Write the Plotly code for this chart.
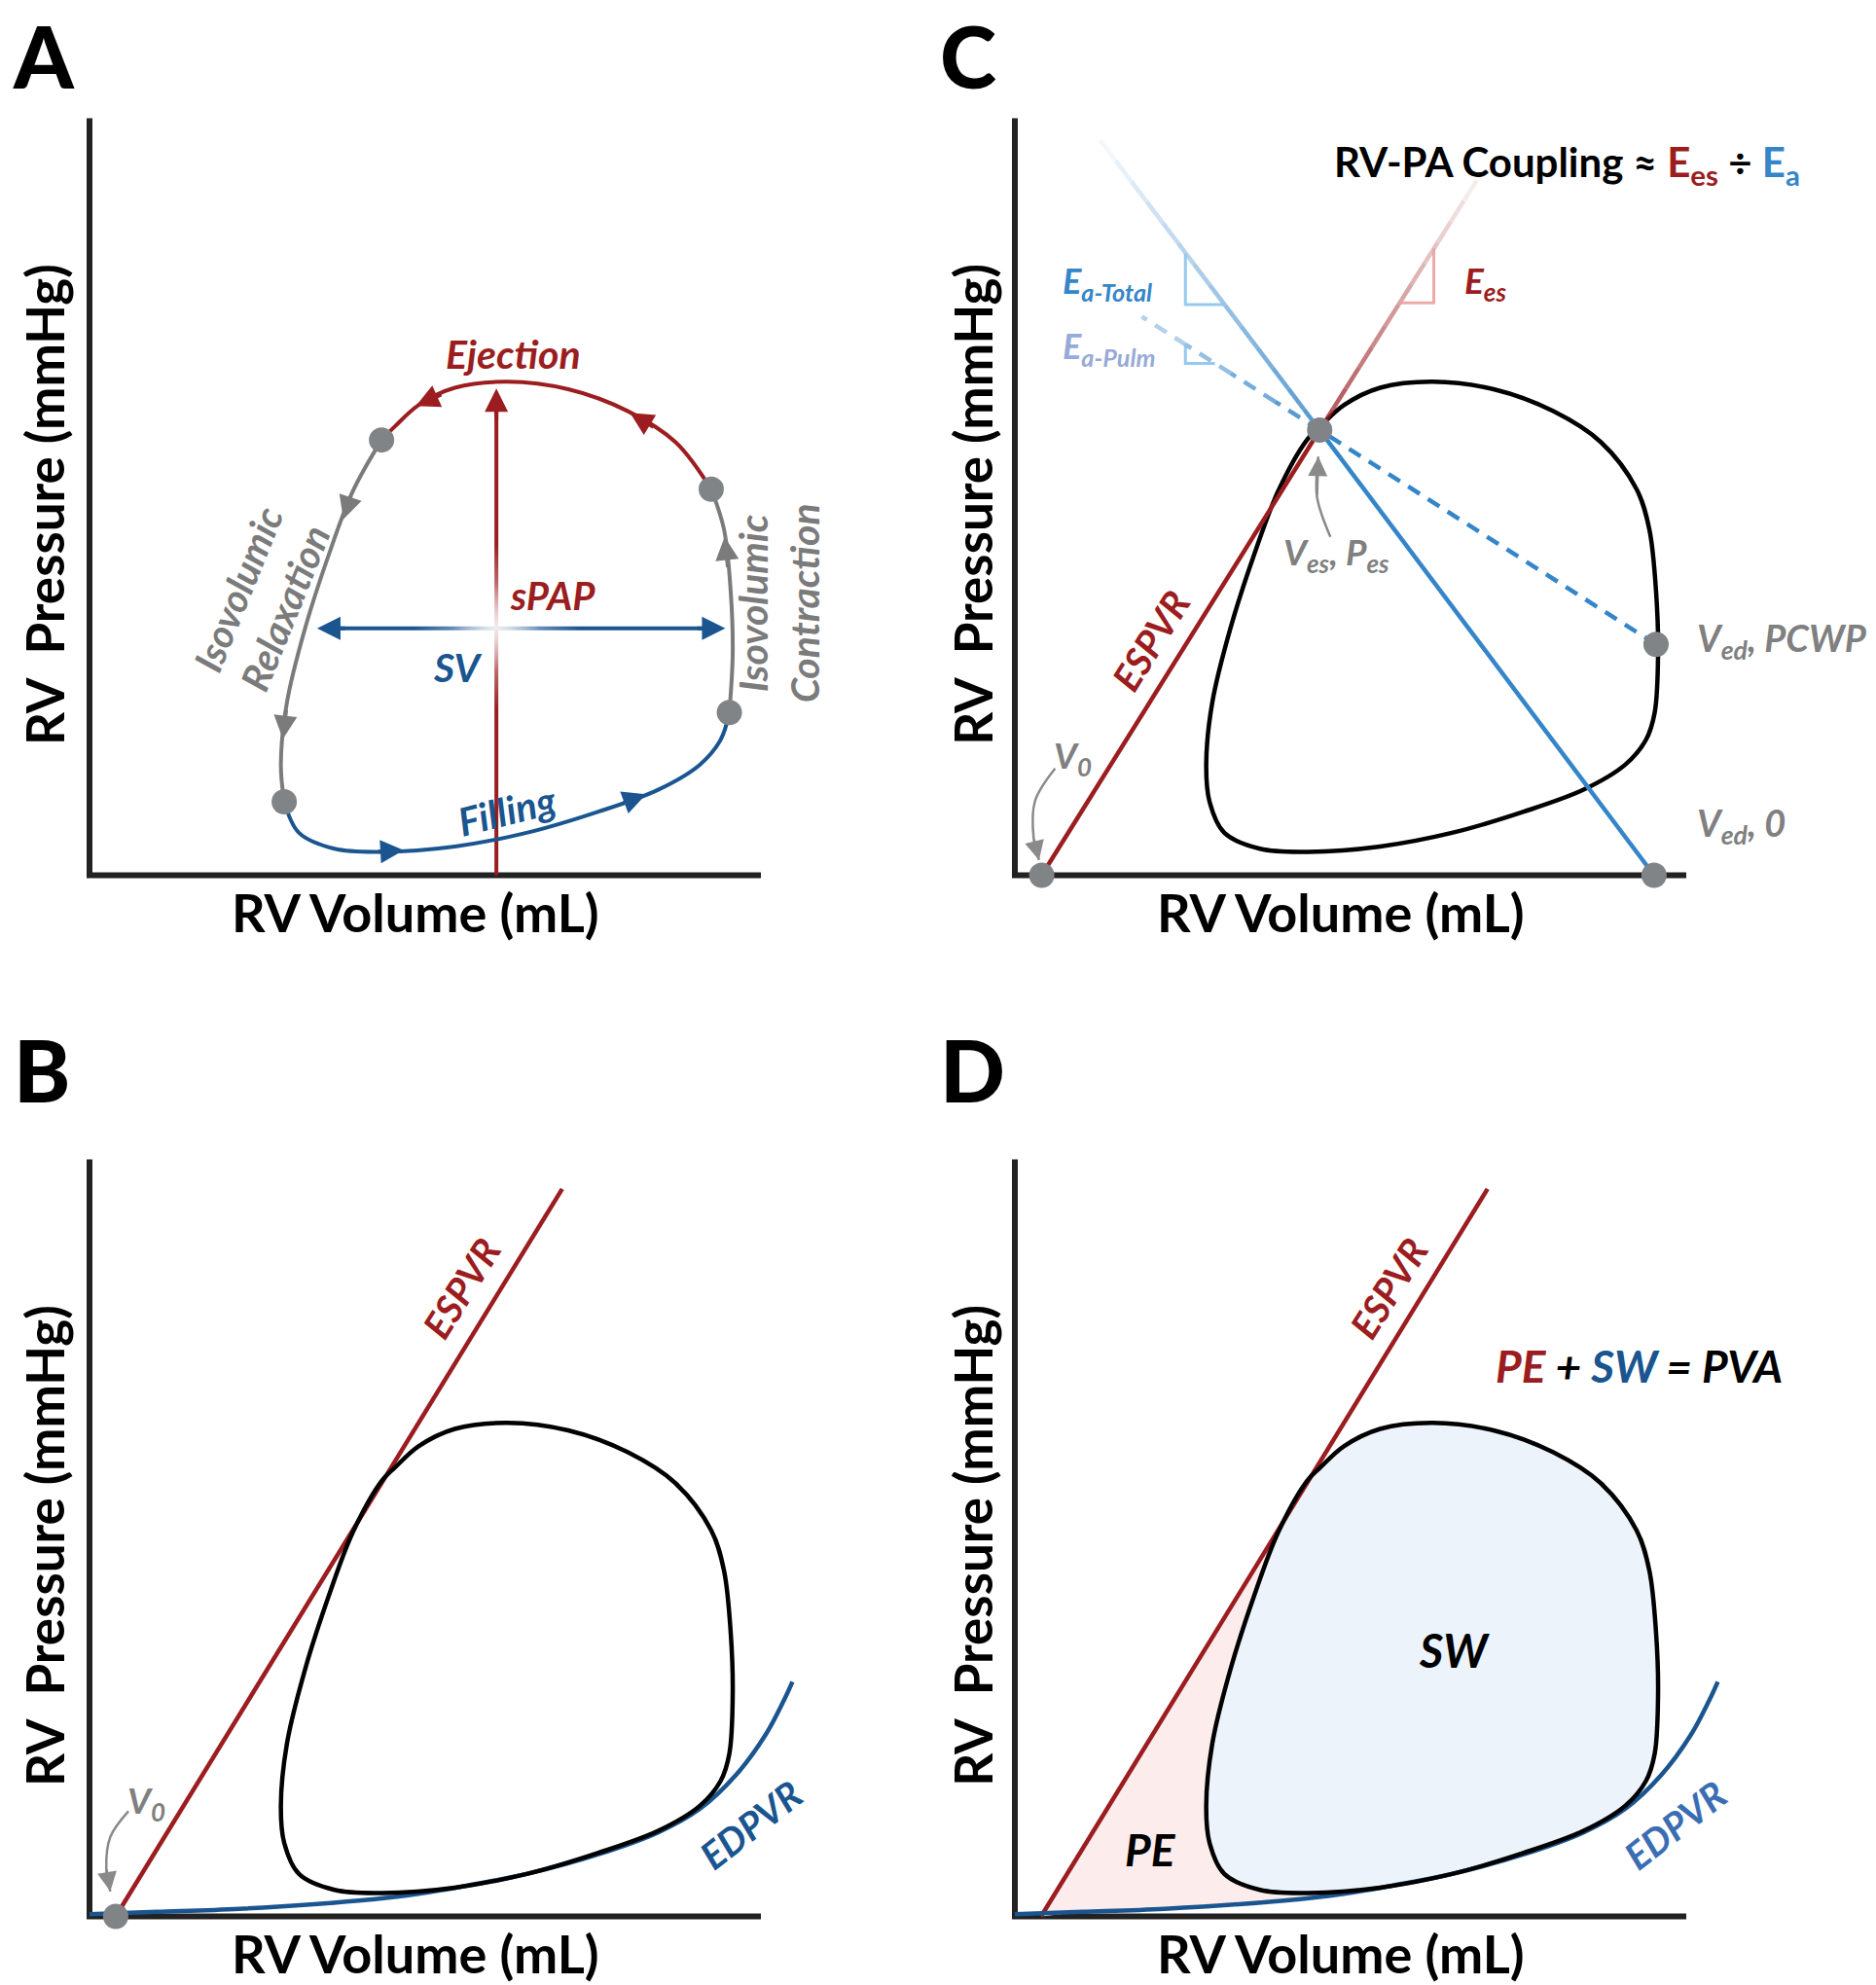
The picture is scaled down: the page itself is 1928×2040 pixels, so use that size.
import plotly.graph_objects as go

W, H = 1928, 2040
SX, SY = 6.9, 7.78          # pixels per axis unit (axes run 0..100)
FONT = "Lato"

RED = "#9b1d20"
BLUE = "#1a5590"
LBLUE = "#3585c9"
GRAY = "#7b7b7b"
DOTC = "#808487"
AXC = "#222222"

# ---------------- data (volume, pressure as % of axis length) ----------------
# PV loop, ordered from end-systole (counter-clockwise)
LOOP_V = [43.5, 39.2, 35.7, 32.1, 29.4, 28.5, 29.0, 31.2, 36.5, 43.7, 54.4, 65.1, 75.8, 84.7,
          90.9, 94.0, 95.3, 95.8, 95.5, 94.5, 92.6, 87.3, 80.2, 71.3, 62.2, 54.4, 49.0, 45.5, 43.5]
LOOP_P = [57.5, 50.7, 42.5, 32.6, 22.8, 14.6, 9.7, 5.6, 3.5, 3.1, 3.8, 5.6, 8.4, 11.3,
          14.6, 17.9, 21.5, 29.3, 37.5, 45.7, 51.0, 57.2, 61.3, 64.2, 65.2, 64.4, 62.1, 59.3, 57.5]
I_ES, I_FILL, I_ED, I_EJ, I_END = 0, 6, 16, 20, 28

EDPVR_V = [0.0, 10.0, 22.3, 40.1, 49.0, 57.0, 65.1, 75.8, 84.7, 90.9, 96.3, 100.7, 103.4, 104.7]
EDPVR_P = [0.3, 0.6, 1.0, 2.1, 3.0, 4.2, 5.6, 8.2, 11.1, 14.2, 18.7, 24.0, 28.5, 31.0]

ESPVR_V = [3.9, 70.4]
ESPVR_P = [0.0, 96.1]

# Panel A markers
SPAP_V = [60.6, 60.6]
SPAP_P = [0.0, 62.0]
SV_V = [35.0, 93.5]
SV_P = [32.6, 32.6]
GLOW = (60.6, 32.8)
A_HEADS = [((48.6, 62.0), (52.6, 63.6), RED), ((80.5, 61.1), (84.2, 59.1), RED),
           ((37.8, 47.0), (39.0, 50.3), GRAY), ((28.8, 18.0), (29.3, 22.0), GRAY),
           ((46.8, 3.3), (42.8, 3.1), BLUE), ((82.9, 10.7), (79.3, 9.5), BLUE),
           ((94.6, 44.7), (95.1, 40.5), GRAY),
           ((60.6, 64.3), (60.6, 60.0), RED),
           ((33.9, 32.6), (38.3, 32.6), BLUE), ((94.7, 32.6), (90.3, 32.6), BLUE)]

# Panel C points
C_V0 = (4.0, 0.0)
C_VES = (45.4, 58.8)
C_ESPVR_END = (68.8, 91.8)
C_VED0 = (95.2, 0.0)
C_VEDP = (95.5, 30.5)
C_EAT_END = (12.7, 97.1)
C_EAP_END = (18.9, 73.8)
TRI_EES_V, TRI_EES_P = [57.4, 62.4, 62.4], [75.6, 75.6, 82.8]
TRI_EAT_V, TRI_EAT_P = [25.4, 25.4, 31.1], [82.1, 75.4, 75.4]
TRI_EAP_V, TRI_EAP_P = [25.4, 25.4, 29.8], [70.2, 67.6, 67.6]
C_VES_ARROW_V, C_VES_ARROW_P = [47.0, 45.0, 45.2], [44.7, 50.0, 55.3]
C_V0_ARROW_V, C_V0_ARROW_P = [6.0, 3.0, 2.8, 3.6], [14.1, 9.8, 4.9, 2.0]
B_V0_ARROW_V, B_V0_ARROW_P = [5.8, 3.1, 2.5, 3.1], [13.9, 10.5, 6.4, 3.3]
B_V0 = (3.9, 0.0)

# Panel D PE region: ESPVR edge, interior anchors (hidden by loop fill), EDPVR edge
PE_V = [3.9, 43.5, 50.0, 50.0, 49.0, 40.1, 22.3, 10.0, 3.9]
PE_P = [0.0, 57.2, 30.0, 3.2, 3.0, 2.1, 1.0, 0.6, 0.0]

# ---------------- panels ----------------
# name: (origin_x_px, origin_y_px, box x0, x1, y0, y1)
PANELS = {
    "A": (92, 899.5, 0, 955, 0, 1030),
    "C": (1043, 899.5, 958, 1928, 0, 1030),
    "B": (92, 1969.5, 0, 955, 1032, 2040),
    "D": (1043, 1969.5, 958, 1928, 1032, 2040),
}
XA, YA = {}, {}
layout_axes = {}
for i, (name, (ox, oy, x0, x1, y0, y1)) in enumerate(PANELS.items()):
    k = "" if i == 0 else str(i + 1)
    XA[name], YA[name] = "x" + k, "y" + k
    layout_axes["xaxis" + k] = dict(domain=[x0 / W, x1 / W], range=[(x0 - ox) / SX, (x1 - ox) / SX],
                                    visible=False, fixedrange=True, anchor="y" + k)
    layout_axes["yaxis" + k] = dict(domain=[1 - y1 / H, 1 - y0 / H], range=[(oy - y1) / SY, (oy - y0) / SY],
                                    visible=False, fixedrange=True, anchor="x" + k)

fig = go.Figure()


def line(p, xs, ys, color, width, dash=None, shape="linear", opacity=1.0):
    fig.add_trace(go.Scatter(x=list(xs), y=list(ys), mode="lines",
                             line=dict(color=color, width=width, dash=dash, shape=shape, smoothing=1.0),
                             opacity=opacity, xaxis=XA[p], yaxis=YA[p], hoverinfo="skip", showlegend=False))


def fillonly(p, xs, ys, fillcolor, shape="linear"):
    fig.add_trace(go.Scatter(x=list(xs), y=list(ys), mode="lines", fill="toself", fillcolor=fillcolor,
                             line=dict(width=0, color=fillcolor, shape=shape), xaxis=XA[p], yaxis=YA[p],
                             hoverinfo="skip", showlegend=False))


def dots(p, pts, size=26):
    fig.add_trace(go.Scatter(x=[q[0] for q in pts], y=[q[1] for q in pts], mode="markers",
                             marker=dict(size=size, color=DOTC, line=dict(width=0)), cliponaxis=False,
                             xaxis=XA[p], yaxis=YA[p], hoverinfo="skip", showlegend=False))


def head(p, tip, tail, color, width=4, size=1.2):
    fig.add_annotation(x=tip[0], y=tip[1], ax=tail[0], ay=tail[1], xref=XA[p], yref=YA[p],
                       axref=XA[p], ayref=YA[p], text="", showarrow=True, arrowhead=2,
                       arrowsize=size, arrowwidth=width, arrowcolor=color, standoff=0)


def fade(p, a, b, rgb, a0, a1, n, width, dash=None):
    for i in range(n):
        t0, t1 = i / n, (i + 1) / n
        al = a0 + (a1 - a0) * (i + 0.5) / n
        line(p, [a[0] + (b[0] - a[0]) * t0, a[0] + (b[0] - a[0]) * t1],
             [a[1] + (b[1] - a[1]) * t0, a[1] + (b[1] - a[1]) * t1],
             "rgba(%d,%d,%d,%.3f)" % (rgb[0], rgb[1], rgb[2], al), width, dash=dash)


def text(p, x, y, s, size, color="black", italic=True, weight=700, angle=0, xanchor="center", align="center"):
    fig.add_annotation(x=x, y=y, xref=XA[p], yref=YA[p], text=s, showarrow=False,
                       font=dict(family=FONT, size=size, color=color, weight=weight,
                                 style="italic" if italic else "normal"),
                       textangle=angle, xanchor=xanchor, yanchor="middle", align=align)


def titles(p, ytx, letter, lx, ly):
    text(p, 48.6, -4.9, "RV Volume (mL)", 54, italic=False)
    text(p, ytx, 49.0, "RV\u00a0 Pressure (mmHg)", 53, italic=False, angle=-90)
    text(p, lx, ly, letter, 88, italic=False, weight=900)


# ---------------- Panel A ----------------
line("A", [0, 0, 100], [100, 0, 0], AXC, 6)
line("A", SPAP_V, SPAP_P, RED, 4)
line("A", SV_V, SV_P, BLUE, 4)
fig.add_trace(go.Scatter(x=[GLOW[0], GLOW[0]], y=[GLOW[1], GLOW[1]], mode="markers",
                         marker=dict(size=[170, 90], color="rgba(255,255,255,0)",
                                     gradient=dict(type="radial", color="white"), line=dict(width=0)),
                         xaxis="x", yaxis="y", hoverinfo="skip", showlegend=False))
line("A", LOOP_V[I_ES:I_FILL + 1], LOOP_P[I_ES:I_FILL + 1], GRAY, 4, shape="spline")
line("A", LOOP_V[I_FILL:I_ED + 1], LOOP_P[I_FILL:I_ED + 1], BLUE, 4, shape="spline")
line("A", LOOP_V[I_ED:I_EJ + 1], LOOP_P[I_ED:I_EJ + 1], GRAY, 4, shape="spline")
line("A", LOOP_V[I_EJ:I_END + 1], LOOP_P[I_EJ:I_END + 1], RED, 4, shape="spline")
for tip, tail, col in A_HEADS:
    head("A", tip, tail, col)
dots("A", [(LOOP_V[i], LOOP_P[i]) for i in (I_ES, I_FILL, I_ED, I_EJ)])
text("A", 63.1, 68.9, "Ejection", 41, RED)
text("A", 69.0, 36.9, "sPAP", 40, RED)
text("A", 54.8, 27.5, "SV", 41, BLUE)
text("A", 62.2, 8.6, "Filling", 40, BLUE, angle=-14)
text("A", 25.6, 36.6, "Isovolumic<br>Relaxation", 40, GRAY, angle=-68)
text("A", 102.6, 36.0, "Isovolumic<br>Contraction", 41, GRAY, angle=-90)
titles("A", -6.7, "A", -6.8, 108.3)

# ---------------- Panel C ----------------
line("C", [0, 0, 100], [100, 0, 0], AXC, 6)
line("C", LOOP_V, LOOP_P, "black", 4.5, shape="spline")
line("C", [C_V0[0], C_VES[0]], [C_V0[1], C_VES[1]], RED, 4.5)
fade("C", C_VES, C_ESPVR_END, (155, 29, 32), 0.8, 0.05, 12, 4.5)
line("C", [C_VED0[0], C_VES[0]], [C_VED0[1], C_VES[1]], LBLUE, 4.5)
fade("C", C_VES, C_EAT_END, (53, 133, 201), 0.85, 0.03, 14, 4.5)
line("C", [C_VEDP[0], C_VES[0]], [C_VEDP[1], C_VES[1]], LBLUE, 4.5, dash="14px,10px")
fade("C", C_VES, C_EAP_END, (53, 133, 201), 0.9, 0.3, 4, 4.5, dash="14px,10px")
line("C", TRI_EES_V, TRI_EES_P, "rgba(235,160,160,0.9)", 3)
line("C", TRI_EAT_V, TRI_EAT_P, "rgba(140,195,238,0.9)", 3)
line("C", TRI_EAP_V, TRI_EAP_P, "rgba(140,195,238,0.9)", 3)
line("C", C_VES_ARROW_V, C_VES_ARROW_P, "#8a8a8a", 2.5, shape="spline")
line("C", C_V0_ARROW_V, C_V0_ARROW_P, "#8a8a8a", 2.5, shape="spline")
head("C", (C_VES_ARROW_V[-1], C_VES_ARROW_P[-1]), (C_VES_ARROW_V[-2], C_VES_ARROW_P[-2]), "#8a8a8a", 2.5, 1.6)
head("C", (C_V0_ARROW_V[-1], C_V0_ARROW_P[-1]), (C_V0_ARROW_V[-2], C_V0_ARROW_P[-2]), "#8a8a8a", 2.5, 1.6)
dots("C", [C_V0, C_VES, C_VED0, C_VEDP])
text("C", 82.2, 93.9,
     "RV-PA Coupling \u2248 <span style='color:%s'>E<sub>es</sub></span> \u00f7 "
     "<span style='color:%s'>E<sub>a</sub></span>" % (RED, LBLUE), 42, italic=False)
text("C", 13.8, 78.3, "E<sub>a-Total</sub>", 36, LBLUE)
text("C", 14.0, 69.7, "E<sub>a-Pulm</sub>", 36, "#97aad8")
text("C", 70.1, 78.3, "E<sub>es</sub>", 37, RED)
text("C", 20.2, 31.1, "ESPVR", 39, RED, angle=-58)
text("C", 8.6, 15.6, "V<sub>0</sub>", 37, "#808080")
text("C", 47.9, 42.4, "V<sub>es</sub>, P<sub>es</sub>", 37, "#808080")
text("C", 101.3, 31.1, "V<sub>ed</sub>, PCWP", 38, "#808080", xanchor="left")
text("C", 101.3, 6.6, "V<sub>ed</sub>, 0", 38, "#808080", xanchor="left")
titles("C", -6.3, "C", -7.0, 108.3)

# ---------------- Panel B ----------------
line("B", [0, 0, 100], [100, 0, 0], AXC, 6)
line("B", ESPVR_V, ESPVR_P, RED, 4.5)
line("B", EDPVR_V, EDPVR_P, BLUE, 4.5, shape="spline")
line("B", LOOP_V, LOOP_P, "black", 4.5, shape="spline")
line("B", B_V0_ARROW_V, B_V0_ARROW_P, "#8a8a8a", 2.5, shape="spline")
head("B", (B_V0_ARROW_V[-1], B_V0_ARROW_P[-1]), (B_V0_ARROW_V[-2], B_V0_ARROW_P[-2]), "#8a8a8a", 2.5, 1.6)
dots("B", [B_V0])
text("B", 55.3, 83.0, "ESPVR", 39, RED, angle=-58)
text("B", 98.5, 12.1, "EDPVR", 39, BLUE, angle=-38)
text("B", 8.5, 15.0, "V<sub>0</sub>", 37, "#808080")
titles("B", -6.7, "B", -7.1, 111.9)

# ---------------- Panel D ----------------
line("D", [0, 0, 100], [100, 0, 0], AXC, 6)
fillonly("D", PE_V, PE_P, "rgb(252,236,236)")
fillonly("D", LOOP_V, LOOP_P, "rgb(236,243,251)", shape="spline")
line("D", ESPVR_V, ESPVR_P, RED, 4.5)
line("D", EDPVR_V, EDPVR_P, BLUE, 4.5, shape="spline")
line("D", LOOP_V, LOOP_P, "black", 4.5, shape="spline")
text("D", 55.6, 83.0, "ESPVR", 39, RED, angle=-58)
text("D", 98.4, 12.1, "EDPVR", 39, "#3a6db3", angle=-38)
text("D", 20.2, 8.9, "PE", 46, "black")
text("D", 65.4, 35.1, "SW", 47, "black")
text("D", 92.9, 72.8, "<span style='color:%s'>PE</span> + <span style='color:%s'>SW</span> = PVA"
     % (RED, BLUE), 46, "black")
titles("D", -6.3, "D", -6.3, 111.9)

fig.update_layout(width=W, height=H, margin=dict(l=0, r=0, t=0, b=0), paper_bgcolor="white",
                  plot_bgcolor="rgba(0,0,0,0)", showlegend=False, hovermode=False,
                  font=dict(family=FONT), **layout_axes)
fig.write_html("out.html", config={"displayModeBar": False},
               post_script="document.body.style.margin='0';")
